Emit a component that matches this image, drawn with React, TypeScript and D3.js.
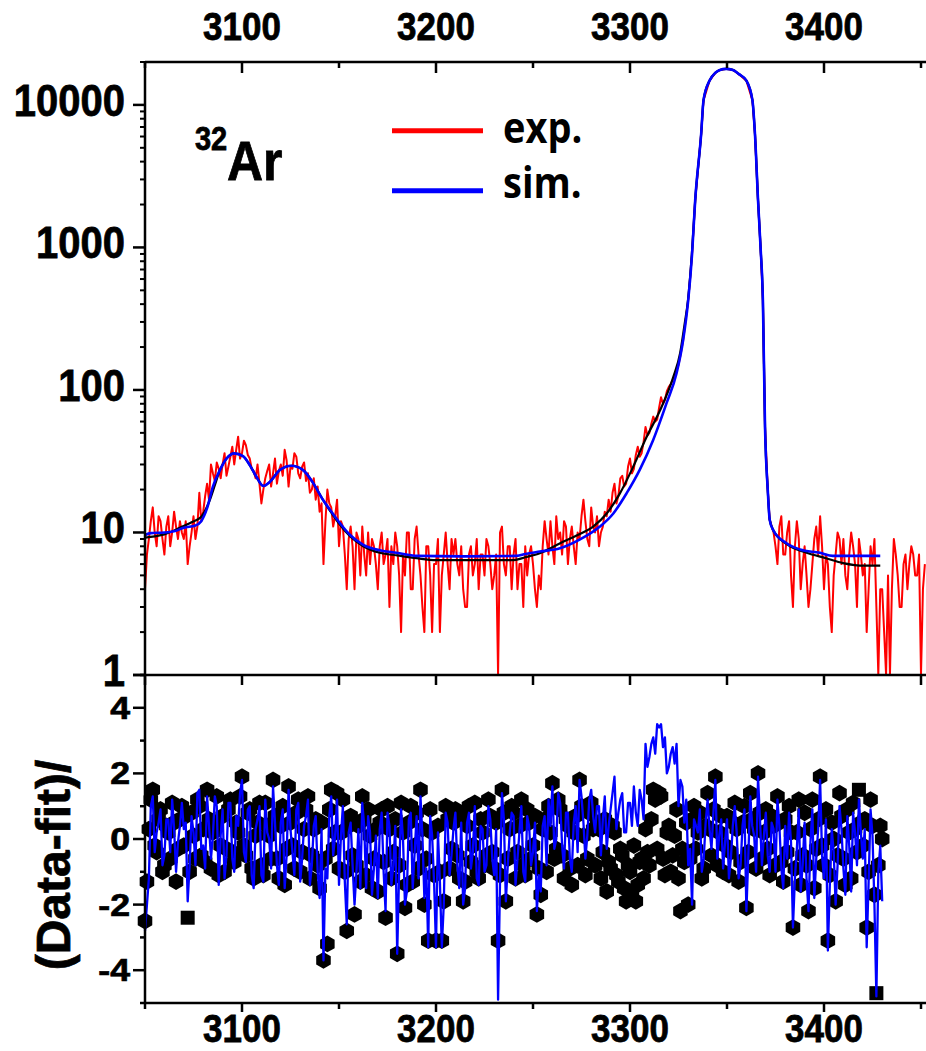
import React from "react";
import * as d3 from "d3";

// ---------- data ----------
const xMajorTicks = [3100, 3200, 3300, 3400];
const xMinorTicks = [3050, 3150, 3250, 3350, 3450];
const yTopTicks = [1, 10, 100, 1000, 10000];
const yTopLabels = ["1", "10", "100", "1000", "10000"];
const yBotTicks = [-4, -2, 0, 2, 4];
const yBotMinor = [-5, -3, -1, 1, 3, 5];

// experimental counts, 1 keV bins from 3050 to 3326
const expLeftStart = 3050;
const expCountsLeft = [
  4, 7, 9, 12, 15, 10, 8, 13, 12, 9,
  7, 11, 13, 8, 10, 14, 11, 9, 12, 10,
  9, 12, 6, 8, 10, 13, 9, 11, 19, 12,
  14, 18, 22, 17, 30, 26, 23, 31, 28, 24,
  30, 36, 25, 29, 34, 40, 30, 38, 47, 33,
  36, 44, 41, 35, 33, 28, 27, 24, 30, 22,
  16, 20, 24, 27, 30, 21, 26, 33, 22, 27,
  30, 25, 38, 32, 21, 29, 28, 36, 34, 26,
  24, 29, 31, 23, 26, 19, 20, 24, 17, 21,
  14, 16, 6, 12, 20, 16, 15, 11, 13, 17,
  8, 12, 11, 7, 4, 9, 11, 8, 4, 10,
  9, 5, 11, 7, 5, 10, 6, 9, 8, 6,
  4, 8, 10, 6, 7, 9, 3, 8, 6, 10,
  8, 5, 2, 7, 5, 10, 10, 4, 4, 9,
  11, 7, 5, 3, 2, 8, 8, 5, 2, 6,
  6, 9, 2, 5, 7, 10, 6, 4, 9, 7,
  9, 6, 5, 8, 4, 3, 3, 7, 8, 5,
  6, 9, 4, 7, 7, 5, 9, 8, 6, 4,
  5, 7, 1, 10, 11, 6, 5, 8, 8, 4,
  7, 9, 4, 6, 6, 3, 8, 5, 7, 8,
  6, 4, 3, 5, 4, 8, 12, 9, 7, 12,
  8, 6, 13, 9, 10, 7, 12, 11, 6, 9,
  11, 8, 6, 10, 9, 13, 17, 12, 9, 8,
  15, 11, 10, 13, 8, 10, 11, 14, 13, 17,
  14, 19, 22, 16, 18, 24, 25, 21, 22, 29,
  33, 26, 28, 35, 40, 34, 36, 43, 55, 48,
  50, 58, 65, 60, 62, 75, 89, 80, 85, 98,
  105, 110, 117, 125, 137, 150, 175,
];
// experimental peak (hidden under the simulation)
const expPeakEnergy = [3327.4, 3330, 3332, 3333.6, 3336.7, 3337.9, 3341, 3344, 3346, 3349.6, 3353, 3356, 3360, 3363.1, 3364.4, 3366, 3367.3, 3368.5, 3369.6, 3371, 3372];
const expPeakCounts = [224, 425, 900, 2140, 6300, 10800, 14800, 16800, 17500, 17900, 17600, 16500, 14800, 10800, 6300, 2140, 1000, 425, 55, 20, 12.3];
// experimental counts, 1 keV bins from 3374 to 3452
const expRightStart = 3374;
const expCountsRight = [
  10, 8, 6, 11, 13, 7,
  7, 10, 12, 5, 3, 8, 12, 9, 4, 6,
  8, 5, 3, 4, 6, 9, 11, 7, 13, 8,
  4, 7, 6, 3, 2, 5, 7, 10, 9, 6,
  9, 5, 4, 7, 10, 8, 6, 3, 9, 7,
  5, 6, 2, 4, 8, 6, 9, 3, 1, 4,
  4, 2, 1, 5, 1, 4, 9, 7, 5, 3,
  3, 6, 7, 4, 6, 8, 7, 5, 5, 7,
  1, 4, 6,
];

// simulation (blue)
const simEnergy = [3050, 3053, 3060, 3066, 3070, 3076, 3079, 3082, 3085, 3088.6, 3092, 3096, 3100.5, 3104, 3107.4, 3111, 3114.4, 3119.6, 3125.5, 3131.5, 3136.7, 3141.8, 3145.4, 3150.5, 3155.7, 3162.5, 3171, 3179.7, 3190, 3214, 3241.6, 3246, 3253.5, 3263.9, 3274, 3284.5, 3291.4, 3298.2, 3305, 3311.9, 3318.8, 3324, 3327.4, 3330, 3332, 3333.6, 3336.7, 3337.9, 3341, 3344, 3346, 3349.6, 3353, 3356, 3360, 3363.1, 3364.4, 3366, 3367.3, 3368.5, 3369.6, 3371, 3372, 3373.8, 3380.7, 3387.6, 3397.9, 3404.6, 3429];
const simCounts = [9.6, 9.9, 10.0, 10.3, 10.8, 11.2, 12.0, 14.8, 21, 27.4, 33, 35.9, 34.3, 29.7, 24.6, 21.2, 22.7, 27.5, 29.4, 27.4, 22.2, 16.9, 14.4, 11.6, 9.6, 8.2, 7.5, 7.2, 6.85, 6.8, 6.85, 7.06, 7.35, 7.75, 8.9, 11, 13.6, 18.8, 27.5, 44.4, 80.5, 131, 224, 425, 900, 2140, 6300, 10800, 14800, 16800, 17500, 17900, 17600, 16500, 14800, 10800, 6300, 2140, 1000, 425, 55, 20, 12.3, 10.4, 8.4, 7.6, 7.2, 6.85, 6.85];

// fit (black)
const fitEnergy = [3050, 3055, 3060, 3068, 3074, 3079, 3083.4, 3086, 3088.6, 3092, 3096, 3100.5, 3104, 3107.4, 3111, 3114.4, 3119.6, 3125.5, 3131.5, 3136.7, 3141.8, 3145.4, 3150.5, 3155.7, 3162.5, 3171, 3180, 3190, 3200, 3240, 3246, 3253.5, 3264, 3273, 3281, 3288, 3294.8, 3301.7, 3308.6, 3315.5, 3322.3, 3325.8, 3328, 3330, 3332, 3333.6, 3336.7, 3337.9, 3341, 3344, 3346, 3349.6, 3353, 3356, 3360, 3363.1, 3364.4, 3366, 3367.3, 3368.5, 3369.6, 3371, 3372, 3373.8, 3380.7, 3391, 3401, 3409.8, 3421, 3429];
const fitCounts = [9.2, 9.4, 9.7, 10.8, 11.8, 12.9, 16.9, 21.5, 27.4, 33, 35.9, 34.3, 29.7, 24.6, 21.2, 22.7, 27.5, 29.4, 27.4, 22.2, 16.9, 14.2, 11.3, 9.4, 8.0, 7.2, 6.9, 6.6, 6.4, 6.4, 6.7, 7.15, 8.4, 9.6, 11.0, 13.6, 18.8, 29, 46.9, 72, 123, 180, 280, 440, 950, 2140, 6300, 10800, 14800, 16800, 17500, 17900, 17600, 16500, 14800, 10800, 6300, 2140, 1000, 425, 55, 20, 12.3, 10.4, 8.3, 7.2, 6.6, 6.1, 5.85, 5.85];

// residuals, 1 keV bins from 3050 to 3430
const residStart = 3050;
const residFit = [
  -2.5, -1.3, 0.3, 1.2, 1.5, -0.2, -0.4, 0.6, 0.9, -1.0,
  -0.8, 0.4, 0.2, -0.6, 1.1, 0.5, -1.3, -0.3, 0.6, 1.0,
  -0.2, 0.7, -2.4, -1.0, 0.8, 0.1, -0.6, 1.2, 1.0, -0.5,
  0.3, -0.7, 1.5, 0.6, -0.9, 0.2, 0.4, 1.3, -1.1, -0.2,
  0.7, -1.0, -0.3, 0.9, 1.2, -0.4, -0.7, 0.5, 0.2, 1.3,
  1.9, -0.2, -0.5, 0.8, 0.9, -0.9, -1.2, 0.1, 0.5, 1.1,
  -0.8, -1.1, 1.1, 0.4, 0.1, -0.6, 1.8, 0.7, -0.6, -1.2,
  0.4, 1.0, -1.4, -0.3, 1.6, 0.5, -0.2, -0.9, 0.8, 1.2,
  -1.0, -0.4, 0.3, 0.9, 1.3, -1.2, -0.5, 0.3, 0.6, -0.8,
  -1.5, 0.5, -3.7, -0.6, -3.2, 0.9, 1.5, -0.3, 0.2, 1.4,
  -0.9, 0.2, 1.2, -1.0, -2.8, 0.4, 0.7, -0.5, -2.3, -0.8,
  0.4, -1.3, 1.3, 0.6, -1.1, 0.9, 0.1, -1.5, -0.6, 0.3,
  -1.6, 0.5, 0.9, -0.7, -2.4, 1.0, 0.3, -1.2, -0.4, 0.6,
  -3.5, -0.8, 1.1, 0.2, -2.1, -1.4, 0.5, 1.0, -1.3, -0.2,
  0.8, -0.9, 1.5, 0.3, -2.0, -0.6, -3.1, 0.9, 0.2, -1.1,
  -3.1, 0.4, -1.0, -3.1, -1.9, 1.0, 0.6, -0.9, -0.3, 0.5,
  0.9, -0.5, -1.2, 0.7, -1.9, -1.3, 0.4, 1.0, -0.7, -0.2,
  1.1, -1.0, -1.2, 0.6, 0.2, -0.8, -0.5, 1.2, 0.7, -0.4,
  -0.9, 0.5, -3.1, -1.1, 1.5, 0.8, -1.9, -0.6, 0.3, 1.0,
  0.8, -1.2, -0.4, 0.4, 1.2, -0.8, -1.1, 0.9, 0.5, -0.6,
  -0.2, 0.7, -2.3, -0.9, -1.7, 0.3, 0.6, -1.0, 1.0, 0.2,
  1.7, -0.6, -0.3, 1.2, 0.9, -0.5, -1.2, 0.6, 0.4, -0.9,
  -1.4, 0.2, 0.7, -0.8, 1.8, 1.0, 0.1, -1.1, -0.6, 0.8,
  1.1, 0.3, -0.8, 0.5, 0.3, -1.2, -0.4, 0.6, -1.6, -0.7,
  -0.9, 0.4, 0.2, -1.1, -1.3, -0.3, -0.5, -1.5, -1.9, -0.8,
  -1.0, -1.6, -0.2, -1.9, -1.4, -0.7, -0.6, -1.2, 0.3, -0.4,
  -0.8, 0.6, 1.5, 1.2, -0.3, 1.4, 1.3, -0.6, -1.1, 0.2,
  0.4, -1.0, -0.5, 0.1, 0.9, -1.2, -2.2, -0.3, -0.7, 0.5,
  -2.0, -0.6, 0.6, 1.0, -0.3, 0.2, 0.8, -1.2, -0.9, 0.4,
  1.4, 0.3, -0.5, 0.9, 1.9, -0.8, 0.2, 0.7, -1.0, -0.2,
  0.7, -1.1, -0.4, 0.5, 1.1, 0.3, -1.3, -0.7, 0.5, 1.0,
  -2.1, -0.4, 1.4, 0.6, 0.3, -0.9, 2.0, 0.8, -0.6, 0.2,
  0.9, -0.3, -1.1, 0.7, 0.4, -0.8, 1.3, 0.5, -0.7, -1.3,
  0.6, -0.4, 1.0, 0.2, -2.7, -0.9, 0.2, 1.2, -1.4, -0.5,
  0.8, -0.8, -2.2, 0.3, 1.2, -1.5, -0.3, 0.6, 1.9, -0.2,
  -0.8, 0.9, -3.1, -1.1, 0.5, 0.0, -1.9, -0.5, 1.4, 0.7,
  -0.6, -1.4, 0.9, 0.2, -1.2, 1.1, 0.3, -0.4, 1.5, 0.5,
  -0.2, 0.6, -2.7, -1.0, 1.2, 0.4, -1.7, -4.7, -0.8, 0.4,
  0.0,
];
const residSim = [
  -2.8, -2.0, -1.2, 1.0, 1.3, -0.4, 0.2, 0.5, 0.9, -0.8,
  -0.5, 0.6, 0.6, -0.4, 1.2, 0.3, -1.0, -0.1, 0.4, 1.1,
  0.3, 0.5, -1.9, -0.8, 0.7, 0.2, -0.8, 1.4, 1.5, -0.3,
  -0.2, -0.9, 1.3, 0.4, -0.6, 0.1, 1.3, 1.0, -1.4, 0.1,
  0.9, -1.2, -0.5, 1.1, 1.1, -0.6, -1.0, 0.7, 0.4, 1.4,
  1.8, -0.4, -0.7, 0.9, 1.0, -1.1, -1.5, 0.3, 0.6, 1.0,
  -1.1, -1.3, 1.2, 0.2, 0.0, -0.9, 1.6, 0.5, -0.8, -1.4,
  0.5, 0.9, -1.5, -0.5, 1.5, 0.3, -0.4, -1.1, 0.9, 1.1,
  -1.3, -0.6, 0.4, 0.7, 1.2, -1.4, -0.8, 0.4, 0.7, -1.0,
  -1.8, 0.3, -3.7, -0.9, -1.2, 0.7, 1.3, -0.5, 0.1, 1.2,
  -1.4, 0.1, 1.0, -1.3, -2.6, 0.2, 0.5, -0.8, -2.0, -1.0,
  0.3, -1.5, 1.1, 0.4, -1.5, 0.7, 0.2, -1.7, -0.9, 0.1,
  -1.8, 0.3, 0.8, -1.0, -2.2, 0.8, 0.4, -1.4, -0.8, 0.4,
  -3.5, -1.0, 0.9, 0.0, -2.0, -1.6, 0.6, 0.8, -1.5, -0.4,
  0.7, -1.2, 1.3, 0.1, -1.8, -0.9, -3.3, 0.7, 0.1, -1.3,
  -3.3, 0.2, -1.3, -3.3, -2.0, 0.8, 0.5, -1.1, -0.5, 0.3,
  0.8, -0.8, -1.5, 0.5, -2.0, -1.5, 0.5, 0.8, -0.9, -0.4,
  1.0, -1.2, -1.4, 0.4, 0.3, -1.0, -0.8, 1.0, 0.6, -0.6,
  -1.1, 0.3, -4.9, -1.3, 1.4, 0.6, -1.9, -0.8, 0.2, 0.8,
  0.7, -1.4, -0.6, 0.2, 1.0, -1.0, -1.3, 0.7, 0.4, -0.8,
  -0.4, 0.5, -2.2, -1.1, -1.6, 0.4, 0.7, -0.8, 1.2, 0.4,
  1.6, -0.3, 0.0, 1.4, 1.1, -0.2, -0.9, 0.8, 0.8, -0.6,
  -1.0, 0.5, 1.0, -0.4, 1.8, 1.3, 0.5, -0.6, 0.1, 1.2,
  1.5, 0.7, 0.2, 1.0, 1.0, -0.5, 0.6, 1.3, -0.3, 0.4,
  0.9, 1.4, 1.9, 0.3, 0.8, 1.2, 1.4, 0.2, 0.2, 1.1,
  1.1, 0.4, 1.6, 0.8, 0.4, 1.5, 1.2, 0.6, 2.9, 2.2,
  2.5, 2.9, 3.1, 2.6, 3.5, 3.4, 3.5, 2.8, 3.1, 2.0,
  2.2, 2.6, 2.8, 2.3, 2.9, 1.0, 1.8, 1.6, 0.5, 1.2,
  -0.8, -0.3, -2.0, 0.6, 0.4, 0.2, 0.9, -1.0, -0.6, 0.5,
  1.2, 0.3, -0.3, 0.8, 1.8, -0.6, 0.1, 0.6, -0.9, -0.1,
  0.6, -1.2, -0.6, 0.4, 1.0, 0.2, -1.2, -0.8, 0.4, 0.9,
  -2.2, -0.5, 1.3, 0.4, 0.1, -1.0, 1.9, 0.6, -0.8, 0.1,
  0.8, -0.5, -1.0, 0.5, 0.3, -1.0, 1.2, 0.4, -0.9, -1.5,
  0.4, -0.6, 0.8, -0.1, -2.7, -1.2, -0.3, 0.9, -1.6, -0.8,
  0.5, -1.2, -2.2, -0.1, 0.9, -1.8, -0.6, 0.3, 1.8, -0.5,
  -1.2, 0.6, -3.4, -1.4, 0.3, -0.4, -2.0, -0.8, 1.0, 0.3,
  -0.9, -1.7, 0.7, -0.2, -1.6, 0.8, 0.2, -0.8, 1.2, 0.2,
  -0.6, 0.3, -3.3, -1.3, 0.9, 0.1, -2.0, -4.8, -1.0, -0.2,
  -1.9,
];
const squareMarkerEnergy = [3072, 3418, 3427];

// ---------- layout ----------
const W = 926;
const H = 1051;
const left = 145;
const right = 921;
const topY = 62;
const midY = 675;
const botY = 1003;
const binStep = 1;
const FONT = "'Liberation Sans', Arial, sans-serif";

const x = d3.scaleLinear().domain([3050, 3450]).range([left, right]);
const yTop = d3.scaleLog().domain([1, 20000]).range([midY, topY]);
const yBot = d3.scaleLinear().domain([-5, 5]).range([botY, midY]);

type Pt = [number, number];

function Txt(props: {
  x: number; y: number; size: number; anchor?: string; family?: string;
  sx?: number; sy?: number; rotate?: number; stroke?: number; children: React.ReactNode;
}) {
  const { sx = 1, sy = 1.12, anchor = "middle", family = FONT, rotate = 0, stroke = 0.7 } = props;
  return (
    <text
      transform={`translate(${props.x},${props.y}) rotate(${rotate}) scale(${sx},${sy})`}
      textAnchor={anchor}
      fontFamily={family}
      fontWeight="bold"
      fontSize={props.size}
      fill="#000"
      stroke="#000"
      strokeWidth={stroke}
    >
      {props.children}
    </text>
  );
}

function hexPath(cx: number, cy: number, r: number) {
  const p = d3.path();
  for (let k = 0; k < 6; k++) {
    const a = (Math.PI / 180) * (-90 + 60 * k);
    const px = cx + r * Math.cos(a);
    const py = cy + r * Math.sin(a);
    if (k === 0) p.moveTo(px, py);
    else p.lineTo(px, py);
  }
  p.closePath();
  return p.toString();
}

export default function App() {
  const expPts: Pt[] = [
    ...expCountsLeft.map((c, i) => [expLeftStart + i * binStep, c] as Pt),
    ...expPeakEnergy.map((e, i) => [e, expPeakCounts[i]] as Pt),
    ...expCountsRight.map((c, i) => [expRightStart + i * binStep, c] as Pt),
  ];
  const simPts: Pt[] = simEnergy.map((e, i) => [e, simCounts[i]]);
  const fitPts: Pt[] = fitEnergy.map((e, i) => [e, fitCounts[i]]);
  const resFitPts: Pt[] = residFit.map((r, i) => [residStart + i * binStep, r]);
  const resSimPts: Pt[] = residSim.map((r, i) => [residStart + i * binStep, r]);

  const lineLinTop = d3.line<Pt>().x((d) => x(d[0])).y((d) => yTop(Math.max(1, d[1])));
  const lineSmoothTop = d3
    .line<Pt>()
    .x((d) => x(d[0]))
    .y((d) => yTop(d[1]))
    .curve(d3.curveMonotoneX);
  const lineBot = d3.line<Pt>().x((d) => x(d[0])).y((d) => yBot(d[1]));

  const logMinor: number[] = [];
  for (const dec of [1, 10, 100, 1000, 10000]) {
    for (let m = 2; m <= 9; m++) {
      const v = dec * m;
      if (v <= 20000) logMinor.push(v);
    }
  }

  const axisW = 2.5;

  return (
    <svg
      width={W}
      height={H}
      viewBox={`0 0 ${W} ${H}`}
      style={{ position: "absolute", left: 0, top: 0, background: "#fff" }}
    >
      <rect x={0} y={0} width={W} height={H} fill="#fff" />

      {/* top panel data */}
      <path d={lineLinTop(expPts) || ""} fill="none" stroke="#ff0000" strokeWidth={2} strokeLinejoin="round" />
      <path d={lineSmoothTop(fitPts) || ""} fill="none" stroke="#000" strokeWidth={2.2} />
      <path d={lineSmoothTop(simPts) || ""} fill="none" stroke="#0000ff" strokeWidth={2.6} />

      {/* bottom panel data */}
      {resFitPts.map((d, i) =>
        squareMarkerEnergy.includes(d[0]) ? (
          <rect key={i} x={x(d[0]) - 7} y={yBot(d[1]) - 7} width={14} height={14} fill="#000" />
        ) : (
          <path key={i} d={hexPath(x(d[0]), yBot(d[1]), 8.4)} fill="#000" />
        )
      )}
      <path d={lineBot(resSimPts) || ""} fill="none" stroke="#0000ff" strokeWidth={2.3} strokeLinejoin="round" />

      {/* axes lines */}
      <line x1={left} x2={W} y1={topY} y2={topY} stroke="#000" strokeWidth={axisW} />
      <line x1={left - 12} x2={W} y1={midY} y2={midY} stroke="#000" strokeWidth={axisW} />
      <line x1={left} x2={W} y1={botY} y2={botY} stroke="#000" strokeWidth={axisW} />
      <line x1={left} x2={left} y1={topY - 1} y2={botY + 1} stroke="#000" strokeWidth={axisW} />

      {/* x ticks and labels */}
      {xMajorTicks.map((t) => (
        <g key={"tx" + t}>
          <line x1={x(t)} x2={x(t)} y1={topY} y2={topY + 11} stroke="#000" strokeWidth={axisW} />
          <line x1={x(t)} x2={x(t)} y1={midY} y2={midY + 10} stroke="#000" strokeWidth={axisW} />
          <line x1={x(t)} x2={x(t)} y1={botY} y2={botY + 9} stroke="#000" strokeWidth={axisW} />
          <Txt x={x(t)} y={40} size={35}>{String(t)}</Txt>
          <Txt x={x(t)} y={1042} size={35}>{String(t)}</Txt>
        </g>
      ))}
      {xMinorTicks.map((t) => (
        <g key={"mx" + t}>
          <line x1={x(t)} x2={x(t)} y1={topY} y2={topY + 6} stroke="#000" strokeWidth={axisW} />
          <line x1={x(t)} x2={x(t)} y1={midY} y2={midY + 10} stroke="#000" strokeWidth={axisW} />
          <line x1={x(t)} x2={x(t)} y1={botY} y2={botY + 6} stroke="#000" strokeWidth={axisW} />
        </g>
      ))}

      {/* top panel y axis */}
      {yTopTicks.map((t, i) => (
        <g key={"ty" + t}>
          <line x1={left - 12} x2={left} y1={yTop(t)} y2={yTop(t)} stroke="#000" strokeWidth={axisW} />
          <Txt x={125} y={yTop(t) + 11} size={40} anchor="end">{yTopLabels[i]}</Txt>
        </g>
      ))}
      {logMinor.map((t) => (
        <line key={"lm" + t} x1={left - 5} x2={left} y1={yTop(t)} y2={yTop(t)} stroke="#000" strokeWidth={2} />
      ))}

      {/* bottom panel y axis */}
      {yBotTicks.map((t) => (
        <g key={"by" + t}>
          <line x1={left - 12} x2={left} y1={yBot(t)} y2={yBot(t)} stroke="#000" strokeWidth={axisW} />
          <Txt x={130} y={yBot(t) + 11} size={31} anchor="end" sx={1.15} sy={1}>{String(t)}</Txt>
        </g>
      ))}
      {yBotMinor.map((t) => (
        <line key={"bm" + t} x1={left - 5} x2={left} y1={yBot(t)} y2={yBot(t)} stroke="#000" strokeWidth={axisW} />
      ))}

      {/* y title of bottom panel */}
      <Txt x={70} y={865} size={48} rotate={-90} sy={1}>(Data-fit)/</Txt>

      {/* isotope label */}
      <Txt x={195} y={150} size={29} anchor="start">32</Txt>
      <Txt x={227} y={180} size={50} anchor="start">Ar</Txt>

      {/* legend */}
      <line x1={392} x2={483} y1={130.7} y2={130.7} stroke="#ff0000" strokeWidth={5} />
      <line x1={392} x2={483} y1={190.7} y2={190.7} stroke="#0000ff" strokeWidth={5} />
      <Txt x={503} y={143} size={38} anchor="start" family="'Open Sans', sans-serif" stroke={0}>exp.</Txt>
      <Txt x={503} y={198} size={38} anchor="start" family="'Open Sans', sans-serif" stroke={0}>sim.</Txt>
    </svg>
  );
}
